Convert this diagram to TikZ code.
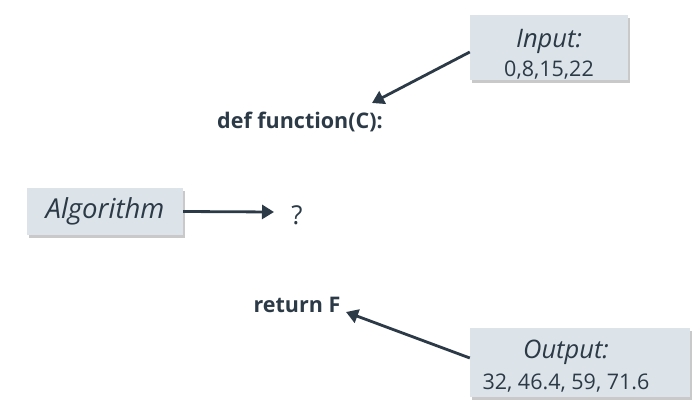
\documentclass[tikz,border=0pt]{standalone}
\usepackage{fontspec}
\setmainfont{Open Sans}
\usetikzlibrary{shadows,arrows.meta}
\definecolor{ink}{HTML}{2B3A46}
\definecolor{boxfill}{HTML}{DCE3E9}
\tikzset{
  infobox/.style={fill=boxfill, draw=none, text=ink, align=center, inner sep=0pt,
    drop shadow={shadow xshift=2pt, shadow yshift=-3pt, opacity=0.35, fill=black!60}},
  conn/.style={draw=ink, line width=2.8pt, -{Triangle[length=12pt,width=14pt]}},
  code/.style={text=ink, font=\fontsize{21.5}{24}\selectfont\bfseries, inner sep=0pt}
}
\begin{document}
\begin{tikzpicture}[x=1pt,y=-1pt]
\useasboundingbox (0,0) rectangle (700,412);
\fill[white] (0,0) rectangle (700,412);
\node[infobox, minimum width=158pt, minimum height=65pt] (input) at (549,47.5) {};
\node[text=ink, font=\fontsize{25.5}{28}\selectfont\itshape, inner sep=0pt] (inputT) at (549,41) {Input:};
\node[text=ink, font=\fontsize{21.5}{24}\selectfont, inner sep=0pt] (inputV) at (549,70) {0,8,15,22};
\node[code, anchor=center] (def) at (300,122) {def function(C):};
\node[infobox, minimum width=156pt, minimum height=47pt] (algo) at (105,211.5)
  {\fontsize{27.5}{30}\selectfont\itshape Algorithm};
\node[text=ink, font=\fontsize{26}{30}\selectfont, inner sep=0pt] (q) at (297,215) {?};
\node[code, anchor=center] (ret) at (297,305) {return F};
\node[infobox, minimum width=220pt, minimum height=69pt] (output) at (580,362.5) {};
\node[text=ink, font=\fontsize{25.5}{28}\selectfont\itshape, inner sep=0pt] (outputT) at (566,352) {Output:};
\node[text=ink, font=\fontsize{21.5}{24}\selectfont, inner sep=0pt] (outputV) at (566,383) {32, 46.4, 59, 71.6};
\coordinate (a1) at (470,52);
\coordinate (a1e) at (372,103);
\draw[conn] (input.west |- a1) -- (a1e);
\draw[conn] (algo.east) -- (274,212);
\coordinate (a3) at (470,358);
\coordinate (a3e) at (346,312);
\draw[conn] (output.west |- a3) -- (a3e);
\end{tikzpicture}
\end{document}
